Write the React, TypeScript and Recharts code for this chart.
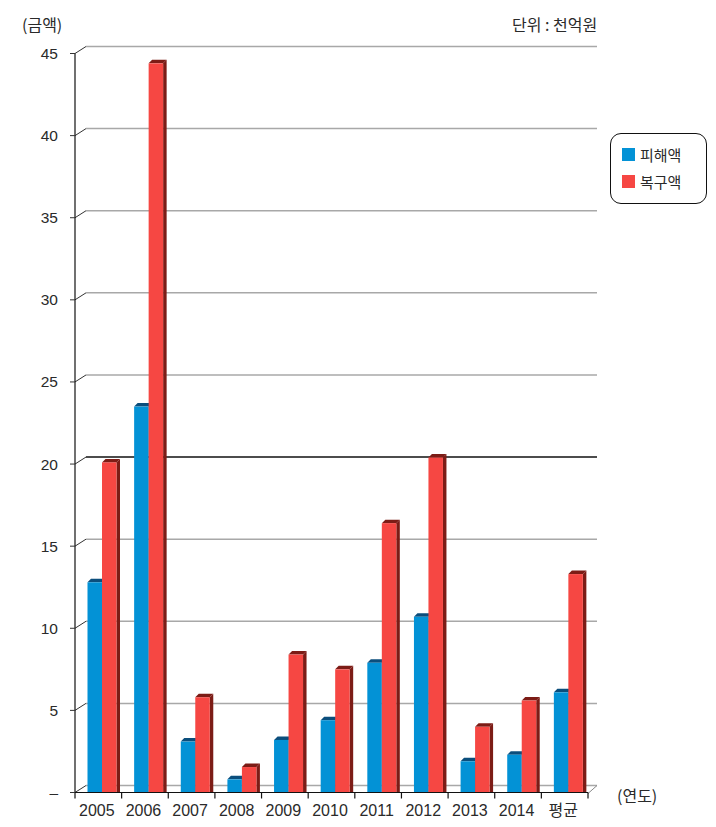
import React from 'react';
import { BarChart, Bar, XAxis, YAxis, CartesianGrid, Legend } from 'recharts';

const categories = ['2005', '2006', '2007', '2008', '2009', '2010', '2011', '2012', '2013', '2014', '평균'];
const damage = [12.8, 23.5, 3.1, 0.8, 3.2, 4.4, 7.9, 10.7, 1.9, 2.3, 6.1];
const recovery = [20.1, 44.4, 5.8, 1.55, 8.4, 7.5, 16.4, 20.4, 4.0, 5.6, 13.3];
const yTicks = [0, 5, 10, 15, 20, 25, 30, 35, 40, 45];
const yTickLabels = ['–', '5', '10', '15', '20', '25', '30', '35', '40', '45'];
const seriesNames = ['피해액', '복구액'];

const data = categories.map((c, i) => ({ name: c, damage: damage[i], recovery: recovery[i] }));

const W = 700;
const H = 811;
const MARGIN = { top: 45.5, right: 120, bottom: 6.5, left: 7 };
const Y_W = 60;
const X_H = 20;
const PLOT_W = W - MARGIN.left - MARGIN.right - Y_W;
const BW = PLOT_W / categories.length;
const WALL_DX = 11;
const WALL_DY = 7;
const DEPTH = 3.5;
const SHIFT = 3.5;

const BLUE = '#0392D6';
const BLUE_TOP = '#0B4E7C';
const RED = '#F64743';
const RED_DARK = '#7C1C16';
const TEXT = '#2a2a2a';
const NUM_FONT = "'Liberation Sans', 'Noto Sans CJK KR', sans-serif";
const KR_FONT = "'Noto Sans CJK KR', sans-serif";

function make3D(front: string, top: string, side: string) {
  return (p: any) => {
    const { x, y, width, height } = p;
    if (!(height > 0)) return <g />;
    const sx = x + SHIFT;
    const d = DEPTH;
    return (
      <g>
        <polygon
          points={`${sx + width},${y} ${sx + width + d},${y - d} ${sx + width + d},${y + height} ${sx + width},${y + height}`}
          fill={side}
        />
        <polygon
          points={`${sx},${y} ${sx + d},${y - d} ${sx + width + d},${y - d} ${sx + width},${y}`}
          fill={top}
        />
        <rect x={sx} y={y} width={width} height={height} fill={front} />
      </g>
    );
  };
}

const gridLine = (p: any) => {
  const { x1, y1, x2, index } = p;
  const isBlack = index === 4;
  return (
    <g key={`gl-${index}`}>
      <line x1={x1} y1={y1} x2={x1 + WALL_DX} y2={y1 - WALL_DY} stroke="#333" strokeWidth={1} />
      <line
        x1={x1 + WALL_DX}
        y1={y1 - WALL_DY}
        x2={x2 + 9}
        y2={y1 - WALL_DY}
        stroke={isBlack ? '#111' : '#a8a8a8'}
        strokeWidth={1.5}
      />
      {index === 0 && (
        <line x1={x2} y1={y1 + 1} x2={x2 + 9} y2={y1 - WALL_DY} stroke="#888" strokeWidth={1} />
      )}
    </g>
  );
};

const YTick = (p: any) => {
  const { x, y, payload, index } = p;
  const i = yTicks.indexOf(payload.value);
  return (
    <g>
      <line x1={x - 5} y1={y} x2={x} y2={y} stroke="#333" strokeWidth={1} />
      <text
        x={x - 17}
        y={y}
        textAnchor="end"
        dominantBaseline="central"
        fontSize={15.5}
        fontFamily={NUM_FONT}
        fill={TEXT}
      >
        {yTickLabels[i >= 0 ? i : index]}
      </text>
    </g>
  );
};

const XTick = (p: any) => {
  const { x, y, payload, index } = p;
  const left = x - BW / 2;
  const right = x + BW / 2;
  return (
    <g>
      <line x1={left} y1={y} x2={left} y2={y + 6} stroke="#111" strokeWidth={1.2} />
      {index === categories.length - 1 && (
        <line x1={right} y1={y} x2={right} y2={y + 6} stroke="#111" strokeWidth={1.2} />
      )}
      <text x={x - 1.5} y={y + 23} textAnchor="middle" fontSize={16} fontFamily={NUM_FONT} fill={TEXT}>
        {payload.value}
      </text>
    </g>
  );
};

const LegendBox = (props: any) => {
  const items = [...(props.payload || [])].sort(
    (a: any, b: any) => seriesNames.indexOf(a.value) - seriesNames.indexOf(b.value)
  );
  return (
    <div
      style={{
        position: 'relative',
        width: 97,
        height: 71,
        border: '1.5px solid #111',
        borderRadius: 11,
        boxSizing: 'border-box',
        background: '#fff',
      }}
    >
      {items.map((it: any, i: number) => (
        <div key={i} style={{ position: 'absolute', left: 11, top: 12 + i * 27, height: 17, display: 'flex', alignItems: 'center' }}>
          <span style={{ display: 'inline-block', width: 13, height: 13, background: it.color, marginRight: 5 }} />
          <span style={{ fontFamily: KR_FONT, fontSize: 15, color: TEXT, lineHeight: '17px' }}>{it.value}</span>
        </div>
      ))}
    </div>
  );
};

const labelStyle: React.CSSProperties = {
  position: 'absolute',
  fontFamily: KR_FONT,
  fontSize: 16,
  lineHeight: '20px',
  color: TEXT,
  whiteSpace: 'nowrap',
};

export default function App() {
  return (
    <div style={{ position: 'relative', width: W, height: H, background: '#fff' }}>
      <BarChart width={W} height={H} data={data} margin={MARGIN} barGap={0} barSize={14.5}>
        <CartesianGrid vertical={false} horizontal={gridLine} />
        <XAxis
          dataKey="name"
          height={X_H}
          tickSize={0}
          tickMargin={0}
          tickLine={false}
          axisLine={{ stroke: '#111', strokeWidth: 1.2 }}
          tick={<XTick />}
          interval={0}
        />
        <YAxis
          width={Y_W}
          domain={[0, 45]}
          ticks={yTicks}
          tickSize={0}
          tickMargin={0}
          tickLine={false}
          axisLine={{ stroke: '#111', strokeWidth: 1.2 }}
          tick={<YTick />}
          interval={0}
        />
        <Legend
          layout="horizontal"
          verticalAlign="middle"
          align="center"
          content={<LegendBox />}
          wrapperStyle={{ left: 602, top: 125, width: 97, height: 71 }}
        />
        <Bar
          dataKey="damage"
          name={seriesNames[0]}
          fill={BLUE}
          isAnimationActive={false}
          shape={make3D(BLUE, BLUE_TOP, BLUE_TOP)}
        />
        <Bar
          dataKey="recovery"
          name={seriesNames[1]}
          fill={RED}
          isAnimationActive={false}
          shape={make3D(RED, RED_DARK, RED_DARK)}
        />
      </BarChart>
      <div style={{ ...labelStyle, left: 14, top: 6 }}>(금액)</div>
      <div style={{ ...labelStyle, left: 504, top: 6 }}>단위 : 천억원</div>
      <div style={{ ...labelStyle, left: 609, top: 777 }}>(연도)</div>
    </div>
  );
}
